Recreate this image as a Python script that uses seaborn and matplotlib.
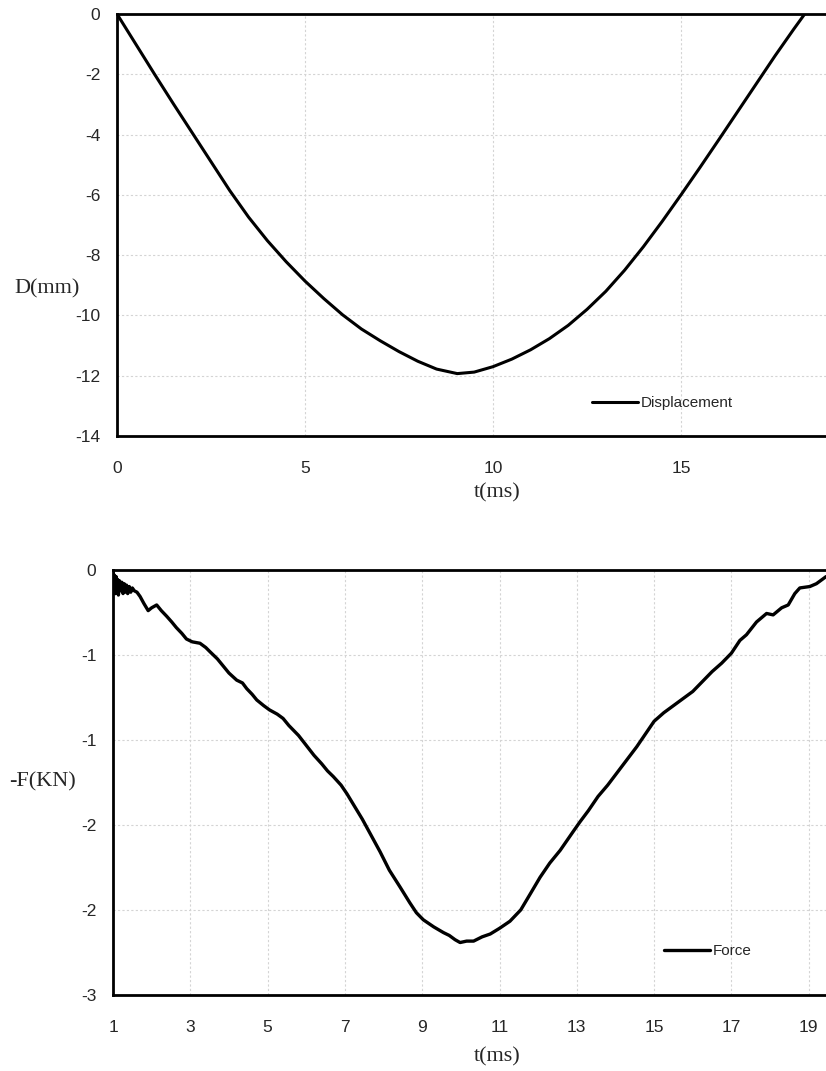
import matplotlib
matplotlib.use("Agg")
import matplotlib.pyplot as plt
import seaborn as sns
import pandas as pd

# Displacement history (t in ms, D in mm)
disp_t = [0.0, 0.5, 1.0, 1.5, 2.0, 2.5, 3.0, 3.5, 4.0, 4.5, 5.0, 5.5, 6.0,
          6.5, 7.0, 7.5, 8.0, 8.5, 9.05, 9.5, 10.0, 10.5, 11.0, 11.5, 12.0,
          12.5, 13.0, 13.5, 14.0, 14.5, 15.0, 15.5, 16.0, 16.5, 17.0, 17.5,
          18.0, 18.29]
disp_d = [0.0, -1.0, -2.0, -2.98, -3.94, -4.9, -5.86, -6.74, -7.52, -8.22,
          -8.86, -9.44, -9.98, -10.45, -10.84, -11.2, -11.52, -11.78, -11.93,
          -11.88, -11.7, -11.45, -11.14, -10.77, -10.33, -9.8, -9.2, -8.5,
          -7.72, -6.88, -6.0, -5.1, -4.18, -3.25, -2.32, -1.39, -0.5, 0.0]

# Contact force history (t in ms, -F in kN)
force_t = [1.00, 1.02, 1.04, 1.06, 1.08, 1.10, 1.12, 1.14, 1.17, 1.20, 1.23,
           1.26, 1.29, 1.32, 1.35, 1.38, 1.42, 1.46, 1.50, 1.55, 1.62, 1.70,
           1.80, 1.91, 2.00, 2.13, 2.25, 2.39, 2.52, 2.64, 2.78, 2.90, 3.05,
           3.25, 3.40, 3.51, 3.70, 3.85, 4.00, 4.20, 4.35, 4.46, 4.60, 4.72,
           4.90, 5.05, 5.25, 5.40, 5.55, 5.80, 6.00, 6.20, 6.40, 6.55, 6.70,
           6.90, 7.05, 7.25, 7.45, 7.65, 7.91, 8.15, 8.43, 8.68, 8.85, 9.03,
           9.30, 9.55, 9.70, 9.85, 9.98, 10.15, 10.33, 10.55, 10.76, 11.00,
           11.27, 11.55, 11.79, 12.05, 12.30, 12.57, 12.90, 13.08, 13.30,
           13.55, 13.80, 14.05, 14.30, 14.55, 14.80, 15.00, 15.25, 15.50,
           15.75, 16.00, 16.25, 16.50, 16.75, 17.00, 17.22, 17.39, 17.65,
           17.91, 18.08, 18.30, 18.47, 18.64, 18.77, 19.03, 19.20, 19.45]
force_f = [-0.02, -0.14, -0.04, -0.17, -0.05, -0.16, -0.07, -0.18, -0.08,
           -0.15, -0.09, -0.17, -0.10, -0.16, -0.11, -0.17, -0.12, -0.16,
           -0.13, -0.15, -0.16, -0.19, -0.24, -0.29, -0.27, -0.25, -0.29,
           -0.33, -0.37, -0.41, -0.45, -0.49, -0.51, -0.52, -0.55, -0.58,
           -0.63, -0.68, -0.73, -0.78, -0.80, -0.84, -0.88, -0.92, -0.96,
           -0.99, -1.02, -1.05, -1.10, -1.17, -1.24, -1.31, -1.37, -1.42,
           -1.46, -1.52, -1.58, -1.67, -1.76, -1.86, -1.99, -2.12, -2.24,
           -2.35, -2.42, -2.47, -2.52, -2.56, -2.58, -2.61, -2.63, -2.62,
           -2.62, -2.59, -2.57, -2.53, -2.48, -2.40, -2.29, -2.17, -2.07,
           -1.98, -1.85, -1.78, -1.70, -1.60, -1.52, -1.43, -1.34, -1.25,
           -1.15, -1.07, -1.01, -0.96, -0.91, -0.86, -0.79, -0.72, -0.66,
           -0.59, -0.50, -0.46, -0.37, -0.31, -0.32, -0.27, -0.25, -0.17,
           -0.13, -0.12, -0.10, -0.05]

disp_xticks = [0, 5, 10, 15]
disp_yticks = [0, -2, -4, -6, -8, -10, -12, -14]
force_xticks = [1, 3, 5, 7, 9, 11, 13, 15, 17, 19]
force_yticks = [0, -0.6, -1.2, -1.8, -2.4, -3.0]

sns.set_style("white")
plt.rcParams["font.family"] = ["Liberation Sans", "DejaVu Sans"]

W, H = 826, 1071
fig = plt.figure(figsize=(W / 100, H / 100), dpi=100)


def px_axes(left, top, right, bottom):
    return fig.add_axes([left / W, 1 - bottom / H, (right - left) / W, (bottom - top) / H])


grid_kw = dict(color="#d4d4d4", linestyle=(0, (2, 2)), linewidth=0.8)
serif = ["Liberation Serif", "DejaVu Serif"]


def style(ax):
    for side in ["left", "bottom", "top", "right"]:
        ax.spines[side].set_color("black")
        ax.spines[side].set_linewidth(2.0)
    ax.grid(True, **grid_kw)
    ax.tick_params(axis="y", length=6, width=1, color="#999999", labelsize=12.5, pad=6)
    ax.tick_params(axis="x", length=0, labelsize=12.5, pad=18)
    ax.set_xlabel("")
    ax.set_ylabel("")


# --- displacement panel ---
ax1 = px_axes(117, 14, 117 + 20 * 37.6, 436)
df_d = pd.DataFrame({"t": disp_t, "D": disp_d})
sns.lineplot(data=df_d, x="t", y="D", ax=ax1, color="black", linewidth=2.2,
             sort=False, estimator=None, label="Displacement")
ax1.set_xlim(0, 20)
ax1.set_ylim(-14, 0)
ax1.set_xticks(disp_xticks)
ax1.set_yticks(disp_yticks)
ax1.set_yticklabels([f"{v:g}" for v in disp_yticks])
style(ax1)
ax1.legend(loc="center left", bbox_to_anchor=(592 / W, 1 - 403 / H),
           bbox_transform=fig.transFigure, frameon=False, fontsize=11,
           handlelength=3.0, handletextpad=0.2, borderpad=0, borderaxespad=0)
fig.text(47 / W, 1 - 289 / H, "D(mm)", family=serif, fontsize=16, ha="center", va="center")
fig.text(497 / W, 1 - 493 / H, "t(ms)", family=serif, fontsize=16, ha="center", va="center")

# --- force panel ---
ax2 = px_axes(113, 569.5, 113 + 20 * 38.65, 995)
df_f = pd.DataFrame({"t": force_t, "F": force_f})
sns.lineplot(data=df_f, x="t", y="F", ax=ax2, color="black", linewidth=2.4,
             sort=False, estimator=None, label="Force")
ax2.set_xlim(1, 21)
ax2.set_ylim(-3, 0)
ax2.set_xticks(force_xticks)
ax2.set_yticks(force_yticks)
ax2.set_yticklabels([f"{v:.0f}" for v in force_yticks])
style(ax2)
ax2.legend(loc="center left", bbox_to_anchor=(664 / W, 1 - 951 / H),
           bbox_transform=fig.transFigure, frameon=False, fontsize=11,
           handlelength=3.0, handletextpad=0.2, borderpad=0, borderaxespad=0)
fig.text(42 / W, 1 - 782 / H, "-F(KN)", family=serif, fontsize=16, ha="center", va="center")
fig.text(497 / W, 1 - 1057 / H, "t(ms)", family=serif, fontsize=16, ha="center", va="center")

fig.savefig("out.png", dpi=100)
